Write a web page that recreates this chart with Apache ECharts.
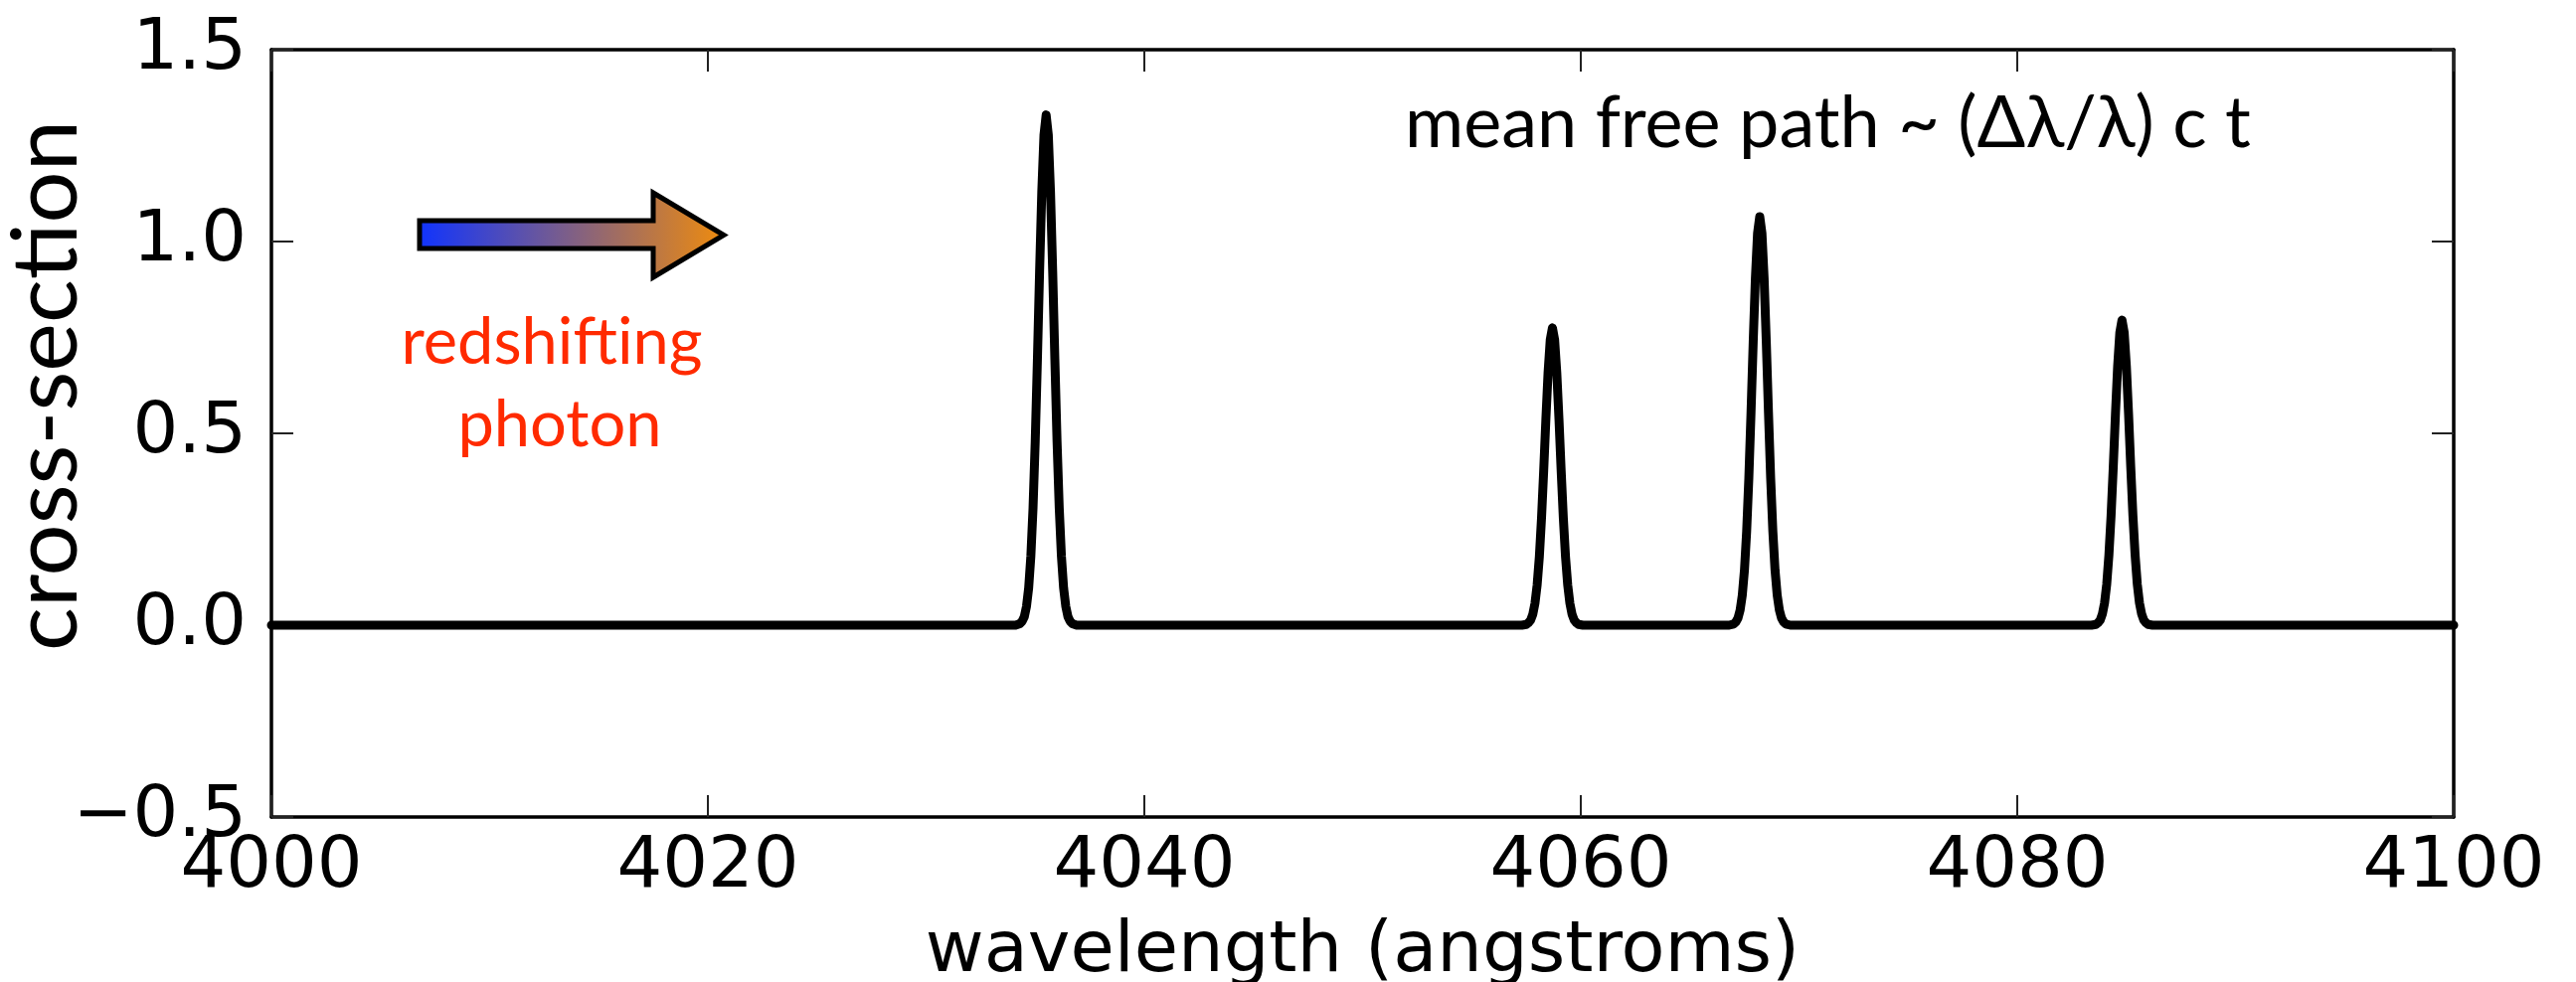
<!DOCTYPE html>
<html>
<head>
<meta charset="utf-8">
<script src="https://cdn.jsdelivr.net/npm/echarts@6/dist/echarts.min.js"></script>
<style>
html,body{margin:0;padding:0;background:#fff;}
#chart{width:2591px;height:988px;}
</style>
</head>
<body>
<div id="chart"></div>
<script>
// ---- data ----
const xTicks = [4000, 4020, 4040, 4060, 4080, 4100];
const yTicks = [-0.5, 0.0, 0.5, 1.0, 1.5];

const baselineWavelength = [4000, 4100];
const baselineCross = [0, 0];

const peak1Wavelength = [4034.1, 4034.3, 4034.4, 4034.5, 4034.6, 4034.7, 4034.8, 4034.9, 4035.0, 4035.1, 4035.2, 4035.3, 4035.4, 4035.5, 4035.6, 4035.7, 4035.8, 4035.9, 4036.0, 4036.1, 4036.2, 4036.3, 4036.4, 4036.5, 4036.6, 4036.7, 4036.9];
const peak1Cross      = [0, 0.004, 0.010, 0.022, 0.049, 0.097, 0.180, 0.306, 0.479, 0.692, 0.922, 1.129, 1.277, 1.33, 1.277, 1.129, 0.922, 0.692, 0.479, 0.306, 0.180, 0.097, 0.049, 0.022, 0.010, 0.004, 0];

const peak2Wavelength = [4057.3, 4057.5, 4057.6, 4057.7, 4057.8, 4057.9, 4058.0, 4058.1, 4058.2, 4058.3, 4058.4, 4058.5, 4058.6, 4058.7, 4058.8, 4058.9, 4059.0, 4059.1, 4059.2, 4059.3, 4059.4, 4059.5, 4059.6, 4059.7, 4059.8, 4059.9, 4060.1];
const peak2Cross      = [0, 0.002, 0.006, 0.013, 0.028, 0.057, 0.105, 0.178, 0.279, 0.403, 0.537, 0.658, 0.744, 0.775, 0.744, 0.658, 0.537, 0.403, 0.279, 0.178, 0.105, 0.057, 0.028, 0.013, 0.006, 0.002, 0];

const peak3Wavelength = [4066.8, 4067.0, 4067.1, 4067.2, 4067.3, 4067.4, 4067.5, 4067.6, 4067.7, 4067.8, 4067.9, 4068.0, 4068.1, 4068.2, 4068.3, 4068.4, 4068.5, 4068.6, 4068.7, 4068.8, 4068.9, 4069.0, 4069.1, 4069.2, 4069.3, 4069.4, 4069.6];
const peak3Cross      = [0, 0.003, 0.008, 0.018, 0.039, 0.078, 0.144, 0.245, 0.383, 0.554, 0.738, 0.904, 1.022, 1.065, 1.022, 0.904, 0.738, 0.554, 0.383, 0.245, 0.144, 0.078, 0.039, 0.018, 0.008, 0.003, 0];

const peak4Wavelength = [4083.4, 4083.6, 4083.7, 4083.8, 4083.9, 4084.0, 4084.1, 4084.2, 4084.3, 4084.4, 4084.5, 4084.6, 4084.7, 4084.8, 4084.9, 4085.0, 4085.1, 4085.2, 4085.3, 4085.4, 4085.5, 4085.6, 4085.7, 4085.8, 4085.9, 4086.0, 4086.2];
const peak4Cross      = [0, 0.002, 0.006, 0.013, 0.029, 0.058, 0.107, 0.183, 0.286, 0.413, 0.551, 0.675, 0.763, 0.795, 0.763, 0.675, 0.551, 0.413, 0.286, 0.183, 0.107, 0.058, 0.029, 0.013, 0.006, 0.002, 0];

const xTitle = 'wavelength (angstroms)';
const yTitle = 'cross-section';
const noteText = 'mean free path ~ (Δλ/λ) c t';
const photonText = ['redshifting', 'photon'];

// ---- build the series data ----
function pairs(xs, ys) { return xs.map((x, i) => [x, ys[i]]); }
const lineData = [].concat(
  [[baselineWavelength[0], baselineCross[0]]],
  pairs(peak1Wavelength, peak1Cross),
  pairs(peak2Wavelength, peak2Cross),
  pairs(peak3Wavelength, peak3Cross),
  pairs(peak4Wavelength, peak4Cross),
  [[baselineWavelength[1], baselineCross[1]]]
);

const chart = echarts.init(document.getElementById('chart'), null, {renderer: 'canvas'});

const frameLine = {show: true, onZero: false, lineStyle: {color: '#000', width: 3.5}};
const innerTick = {show: true, inside: true, length: 22, lineStyle: {color: '#222', width: 2}};
const tickFont = {fontFamily: 'DejaVu Sans', fontSize: 72, color: '#000'};
const xMin = xTicks[0], xMax = xTicks[xTicks.length - 1], xStep = xTicks[1] - xTicks[0];
const yMin = yTicks[0], yMax = yTicks[yTicks.length - 1], yStep = yTicks[1] - yTicks[0];

const option = {
  backgroundColor: '#fff',
  animation: false,
  grid: {left: 273, right: 123, top: 50, bottom: 166, containLabel: false, outerBoundsMode: 'none'},
  xAxis: [
    {
      type: 'value', position: 'bottom', min: xMin, max: xMax, interval: xStep,
      axisLine: frameLine, axisTick: innerTick, splitLine: {show: false},
      axisLabel: Object.assign({margin: 15, showMinLabel: true, showMaxLabel: true,
        formatter: v => String(v)}, tickFont),
      name: xTitle, nameLocation: 'middle', nameGap: 100,
      nameTextStyle: {fontFamily: 'DejaVu Sans', fontSize: 72, color: '#000'}
    },
    {
      type: 'value', position: 'top', min: xMin, max: xMax, interval: xStep,
      axisLine: frameLine, axisTick: innerTick, splitLine: {show: false},
      axisLabel: {show: false}
    }
  ],
  yAxis: [
    {
      type: 'value', position: 'left', min: yMin, max: yMax, interval: yStep,
      axisLine: frameLine, axisTick: innerTick, splitLine: {show: false},
      axisLabel: Object.assign({margin: 25, showMinLabel: true, showMaxLabel: true,
        formatter: v => (v < 0 ? '\u2212' : '') + Math.abs(v).toFixed(1)}, tickFont)
    },
    {
      type: 'value', position: 'right', min: yMin, max: yMax, interval: yStep,
      axisLine: frameLine, axisTick: innerTick, splitLine: {show: false},
      axisLabel: {show: false}
    }
  ],
  series: [{
    type: 'line',
    xAxisIndex: 0, yAxisIndex: 0,
    data: lineData,
    showSymbol: false,
    symbol: 'none',
    smooth: false,
    lineStyle: {color: '#000', width: 9, join: 'round', cap: 'round'},
    clip: true
  }],
  graphic: [
    {
      type: 'text', rotation: Math.PI / 2, x: 47, y: 388,
      style: {text: yTitle, font: '92px Lato', fill: '#000', align: 'center', verticalAlign: 'middle', textAlign: 'center', textVerticalAlign: 'middle'}
    },
    {
      type: 'text', x: 1413, y: 125,
      style: {text: noteText, font: '72px Lato', fill: '#000', align: 'left', verticalAlign: 'middle', textAlign: 'left', textVerticalAlign: 'middle'}
    },
    {
      type: 'text', x: 555, y: 345,
      style: {text: photonText[0], font: '65px Lato', fill: '#ff2a00', align: 'center', verticalAlign: 'middle', textAlign: 'center', textVerticalAlign: 'middle'}
    },
    {
      type: 'text', x: 563, y: 428,
      style: {text: photonText[1], font: '65px Lato', fill: '#ff2a00', align: 'center', verticalAlign: 'middle', textAlign: 'center', textVerticalAlign: 'middle'}
    },
    {
      type: 'polygon',
      shape: {points: [[422, 222], [657, 222], [657, 194], [728, 236.5], [657, 279], [657, 250], [422, 250]]},
      style: {
        fill: {type: 'linear', x: 0, y: 0, x2: 1, y2: 0, colorStops: [
          {offset: 0, color: '#0f33ff'}, {offset: 1, color: '#f08c0c'}
        ]},
        stroke: '#000', lineWidth: 5, lineJoin: 'miter'
      }
    }
  ]
};
chart.setOption(option);
</script>
</body>
</html>
